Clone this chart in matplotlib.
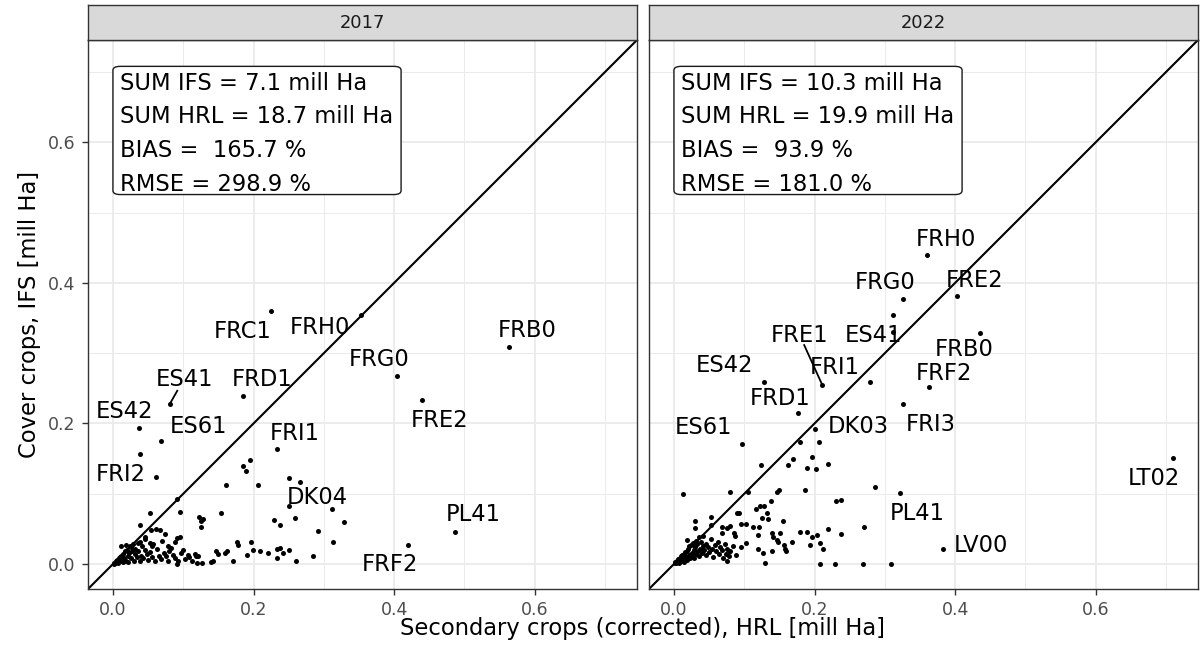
import matplotlib
matplotlib.use("Agg")
import matplotlib.pyplot as plt
from matplotlib.patches import FancyBboxPatch

# ---------------------------------------------------------------- data (mill Ha)
years = ["2017", "2022"]

# 2017: unlabelled regions (HRL secondary crops, IFS cover crops)
hrl_2017 = [0.039, 0.185, 0.189, 0.195, 0.161, 0.206, 0.250, 0.266, 0.091, 0.311,
            0.259, 0.229, 0.238, 0.329, 0.292, 0.313, 0.284, 0.260, 0.053, 0.095,
            0.039, 0.123, 0.128, 0.125, 0.125, 0.153, 0.054, 0.061, 0.067, 0.046,
            0.074, 0.091, 0.095, 0.088, 0.053, 0.055, 0.079, 0.083, 0.100, 0.107,
            0.117, 0.121, 0.147, 0.150, 0.159, 0.162, 0.177, 0.178, 0.196, 0.190,
            0.199, 0.209, 0.221, 0.233, 0.237, 0.242, 0.251, 0.234, 0.171, 0.140,
            0.143, 0.126, 0.119, 0.091, 0.012, 0.019, 0.024, 0.038,
            0.001, 0.002, 0.003, 0.004, 0.005, 0.006, 0.007, 0.008, 0.009, 0.010,
            0.011, 0.012, 0.013, 0.014, 0.015, 0.016, 0.017, 0.018, 0.020, 0.021,
            0.022, 0.023, 0.025, 0.026, 0.027, 0.028, 0.030, 0.031, 0.032, 0.034,
            0.035, 0.036, 0.038, 0.040, 0.041, 0.043, 0.045, 0.046, 0.048, 0.050,
            0.052, 0.055, 0.057, 0.060, 0.062, 0.065, 0.068, 0.070, 0.072, 0.075,
            0.078, 0.080, 0.085, 0.088, 0.092, 0.097, 0.102, 0.108, 0.113, 0.118]
ifs_2017 = [0.156, 0.139, 0.133, 0.148, 0.112, 0.112, 0.122, 0.117, 0.093, 0.078,
            0.066, 0.062, 0.055, 0.060, 0.047, 0.031, 0.011, 0.004, 0.072, 0.074,
            0.056, 0.067, 0.064, 0.053, 0.061, 0.072, 0.049, 0.050, 0.049, 0.039,
            0.043, 0.037, 0.039, 0.032, 0.030, 0.025, 0.025, 0.023, 0.020, 0.013,
            0.015, 0.011, 0.018, 0.015, 0.016, 0.019, 0.032, 0.027, 0.032, 0.013,
            0.020, 0.019, 0.016, 0.021, 0.023, 0.016, 0.020, 0.009, 0.004, 0.003,
            0.005, 0.001, 0.001, 0.000, 0.025, 0.027, 0.025, 0.032,
            0.000, 0.002, 0.001, 0.004, 0.003, 0.006, 0.002, 0.008, 0.005, 0.010,
            0.004, 0.012, 0.007, 0.003, 0.015, 0.009, 0.018, 0.005, 0.020, 0.012,
            0.003, 0.016, 0.024, 0.008, 0.019, 0.028, 0.005, 0.014, 0.022, 0.010,
            0.030, 0.018, 0.004, 0.012, 0.026, 0.008, 0.020, 0.035, 0.014, 0.006,
            0.017, 0.010, 0.028, 0.004, 0.021, 0.012, 0.007, 0.033, 0.016, 0.011,
            0.005, 0.019, 0.013, 0.008, 0.004, 0.016, 0.007, 0.010, 0.005, 0.012]

# 2017: labelled regions
names_2017 = ["FRB0", "FRG0", "FRE2", "FRH0", "FRC1", "FRD1", "ES41", "ES42",
              "ES61", "FRI1", "FRI2", "DK04", "PL41", "FRF2"]
lab_hrl_2017 = [0.563, 0.4045, 0.439, 0.353, 0.2255, 0.185, 0.081, 0.037,
                0.068, 0.2335, 0.061, 0.251, 0.487, 0.420]
lab_ifs_2017 = [0.309, 0.2675, 0.233, 0.355, 0.360, 0.239, 0.228, 0.193,
                0.175, 0.164, 0.124, 0.082, 0.046, 0.027]

# 2022: unlabelled regions
hrl_2022 = [0.179, 0.206, 0.124, 0.162, 0.169, 0.197, 0.189, 0.202, 0.219, 0.286,
            0.013, 0.080, 0.105, 0.187, 0.149, 0.147, 0.230, 0.237, 0.138, 0.117,
            0.123, 0.128, 0.132, 0.125, 0.134, 0.155, 0.089, 0.092, 0.030, 0.030,
            0.053, 0.053, 0.095, 0.102, 0.112, 0.121, 0.080, 0.076, 0.068, 0.069,
            0.179, 0.189, 0.219, 0.270, 0.238, 0.139, 0.151, 0.141, 0.147, 0.148,
            0.119, 0.085, 0.087, 0.197, 0.203, 0.208, 0.193, 0.168, 0.156, 0.160,
            0.158, 0.103, 0.095, 0.120, 0.127, 0.140, 0.212, 0.130, 0.208, 0.229,
            0.269, 0.309, 0.078, 0.075, 0.018, 0.311,
            0.001, 0.002, 0.003, 0.004, 0.005, 0.006, 0.007, 0.008, 0.009, 0.010,
            0.011, 0.012, 0.013, 0.014, 0.015, 0.016, 0.017, 0.018, 0.019, 0.020,
            0.021, 0.022, 0.023, 0.024, 0.025, 0.026, 0.027, 0.028, 0.029, 0.030,
            0.031, 0.032, 0.033, 0.034, 0.035, 0.036, 0.037, 0.038, 0.040, 0.041,
            0.042, 0.043, 0.045, 0.046, 0.048, 0.050, 0.052, 0.054, 0.056, 0.058,
            0.060, 0.062, 0.064, 0.066, 0.068, 0.070, 0.072, 0.074, 0.076, 0.078,
            0.080, 0.084, 0.088]
ifs_2022 = [0.174, 0.173, 0.141, 0.141, 0.150, 0.152, 0.137, 0.135, 0.143, 0.110,
            0.0995, 0.102, 0.102, 0.106, 0.106, 0.102, 0.090, 0.091, 0.090, 0.079,
            0.083, 0.082, 0.073, 0.066, 0.064, 0.061, 0.072, 0.072, 0.0615, 0.051,
            0.067, 0.056, 0.057, 0.057, 0.053, 0.053, 0.054, 0.051, 0.053, 0.044,
            0.046, 0.046, 0.050, 0.053, 0.043, 0.044, 0.044, 0.039, 0.0345, 0.031,
            0.042, 0.044, 0.040, 0.039, 0.042, 0.030, 0.027, 0.032, 0.027, 0.019,
            0.021, 0.030, 0.024, 0.022, 0.016, 0.019, 0.021, 0.001, 0.000, 0.000,
            0.000, 0.000, 0.018, 0.004, 0.0345, 0.355,
            0.001, 0.003, 0.002, 0.005, 0.004, 0.007, 0.002, 0.009, 0.006, 0.011,
            0.004, 0.013, 0.008, 0.015, 0.003, 0.017, 0.010, 0.019, 0.006, 0.022,
            0.013, 0.025, 0.008, 0.027, 0.016, 0.012, 0.030, 0.020, 0.009, 0.024,
            0.033, 0.014, 0.028, 0.018, 0.038, 0.011, 0.022, 0.031, 0.016, 0.026,
            0.040, 0.020, 0.013, 0.029, 0.024, 0.017, 0.035, 0.022, 0.010, 0.027,
            0.018, 0.032, 0.014, 0.024, 0.020, 0.009, 0.028, 0.015, 0.022, 0.012,
            0.018, 0.025, 0.013]

# 2022: labelled regions
names_2022 = ["FRH0", "FRE2", "FRG0", "ES41", "FRE1", "FRI1", "ES42", "FRD1",
              "DK03", "ES61", "FRB0", "FRF2", "FRI3", "LT02", "PL41", "LV00"]
lab_hrl_2022 = [0.360, 0.4025, 0.326, 0.311, 0.211, 0.2785, 0.128, 0.1766,
                0.2013, 0.097, 0.435, 0.3628, 0.326, 0.7095, 0.322, 0.383]
lab_ifs_2022 = [0.439, 0.381, 0.377, 0.330, 0.2548, 0.2586, 0.2595, 0.2145,
                0.1918, 0.171, 0.329, 0.252, 0.228, 0.1506, 0.101, 0.0213]

summary_2017 = ["SUM IFS = 7.1 mill Ha", "SUM HRL = 18.7 mill Ha",
                "BIAS =  165.7 %", "RMSE = 298.9 %"]
summary_2022 = ["SUM IFS = 10.3 mill Ha", "SUM HRL = 19.9 mill Ha",
                "BIAS =  93.9 %", "RMSE = 181.0 %"]

# ---------------------------------------------------------------- label layout
# text-centre positions of the repelled labels, and leader-segment fractions
label_pos_2017 = [(0.589, 0.334), (0.379, 0.293), (0.465, 0.206), (0.294, 0.339),
                  (0.185, 0.333), (0.212, 0.265), (0.102, 0.265), (0.017, 0.219),
                  (0.122, 0.198), (0.259, 0.188), (0.011, 0.130), (0.291, 0.096),
                  (0.513, 0.073), (0.394, 0.002)]
segment_2017 = {"ES41": 0.5}
label_pos_2022 = [(0.3865, 0.464), (0.4277, 0.406), (0.3005, 0.4025), (0.2842, 0.3275),
                  (0.178, 0.3275), (0.2283, 0.282), (0.0725, 0.285), (0.1506, 0.237),
                  (0.2619, 0.198), (0.0416, 0.1965), (0.413, 0.307), (0.3834, 0.273),
                  (0.3652, 0.201), (0.683, 0.124), (0.346, 0.0736), (0.4372, 0.0288)]
segment_2022 = {"FRE1": 0.78}

panels = [
    (hrl_2017, ifs_2017, names_2017, lab_hrl_2017, lab_ifs_2017, label_pos_2017,
     segment_2017, summary_2017),
    (hrl_2022, ifs_2022, names_2022, lab_hrl_2022, lab_ifs_2022, label_pos_2022,
     segment_2022, summary_2022),
]

# ---------------------------------------------------------------- figure
W, H = 1201, 647
fig = plt.figure(figsize=(W / 100, H / 100), dpi=100)


def px_rect(x0, y0, x1, y1):
    return [x0 / W, 1 - y1 / H, (x1 - x0) / W, (y1 - y0) / H]


panel_px = [(88, 40, 637, 589), (649, 40, 1198, 589)]
strip_top = 5
lim = (-0.0355, 0.7455)
big = 16.3
border = "#333333"
summary_texts = []

for i, (year, spec) in enumerate(zip(years, panels)):
    hx, iy, names, lx, ly, lpos, segs, summary = spec
    x0, y0, x1, y1 = panel_px[i]
    ax = fig.add_axes(px_rect(x0, y0, x1, y1))
    ax.set_xlim(lim)
    ax.set_ylim(lim)
    major = [0.0, 0.2, 0.4, 0.6]
    minor = [0.1, 0.3, 0.5, 0.7]
    ax.set_xticks(major)
    ax.set_xticklabels([f"{v:.1f}" for v in major])
    ax.set_yticks(major)
    ax.set_yticklabels([f"{v:.1f}" for v in major])
    ax.set_xticks(minor, minor=True)
    ax.set_yticks(minor, minor=True)
    ax.grid(which="major", color="#EBEBEB", lw=1.3)
    ax.grid(which="minor", color="#EBEBEB", lw=0.7)
    ax.set_axisbelow(True)
    ax.tick_params(which="minor", length=0)
    ax.tick_params(which="major", length=4.3, width=1.0, color=border,
                   labelsize=12.5, labelcolor="#4D4D4D")
    ax.tick_params(axis="x", pad=4.3)
    ax.tick_params(axis="y", pad=4.8)
    if i == 1:
        ax.tick_params(axis="y", length=0, labelleft=False)
    for sp in ax.spines.values():
        sp.set_color(border)
        sp.set_linewidth(1.0)

    ax.plot(lim, lim, color="black", lw=1.5, zorder=2)
    ax.scatter(hx, iy, s=13, c="black", linewidths=0, zorder=3)
    ax.scatter(lx, ly, s=13, c="black", linewidths=0, zorder=3)

    for name, px_, py_, (tx, ty) in zip(names, lx, ly, lpos):
        ax.text(tx, ty - 0.002, name, ha="center", va="center", fontsize=big,
                color="black", zorder=4)
        if name in segs:
            f = segs[name]
            ax.plot([px_ + 0.04 * (tx - px_), px_ + f * (tx - px_)],
                    [py_ + 0.04 * (ty - py_), py_ + f * (ty - py_)],
                    color="black", lw=1.3, zorder=3)

    # summary statistics, text first; the frame is fitted around it afterwards
    t = ax.annotate("\n".join(summary), xy=(0.0, 0.708), xytext=(5.4, -3.8),
                    textcoords="offset points", ha="left", va="top",
                    fontsize=big, linespacing=1.6, zorder=6)
    summary_texts.append((ax, t))

    sax = fig.add_axes(px_rect(x0, strip_top, x1, y0))
    sax.set_facecolor("#D9D9D9")
    sax.set_xticks([])
    sax.set_yticks([])
    for sp in sax.spines.values():
        sp.set_color(border)
        sp.set_linewidth(1.0)
    sax.text(0.5, 0.5, year, ha="center", va="center", fontsize=12.9,
             color="#1A1A1A", transform=sax.transAxes)

fig.text(642.5 / W, 1 - 635 / H, "Secondary crops (corrected), HRL [mill Ha]",
         ha="center", va="baseline", fontsize=big)
fig.text(29.5 / W, 1 - 314.5 / H, "Cover crops, IFS [mill Ha]",
         ha="center", va="center", rotation=90, fontsize=big)

# rounded frames around the summary statistics
fig.canvas.draw()
renderer = fig.canvas.get_renderer()
for ax, t in summary_texts:
    bb = t.get_window_extent(renderer)
    top_disp = ax.transData.transform((0.0, 0.708))
    pad = 7.5
    left = top_disp[0]
    right = bb.x1 + pad
    top = top_disp[1]
    bottom = bb.y0 + 1.5
    inv = fig.transFigure.inverted()
    (fx0, fy0) = inv.transform((left, bottom))
    (fx1, fy1) = inv.transform((right, top))
    box = FancyBboxPatch((fx0, fy0), fx1 - fx0, fy1 - fy0,
                         boxstyle="round,pad=0,rounding_size=0.006",
                         transform=fig.transFigure, fc="white", ec="#1A1A1A",
                         lw=1.0, zorder=5, clip_on=False)
    box.set_transform(fig.transFigure)
    ax.add_artist(box)

fig.savefig("out.png", dpi=100)
